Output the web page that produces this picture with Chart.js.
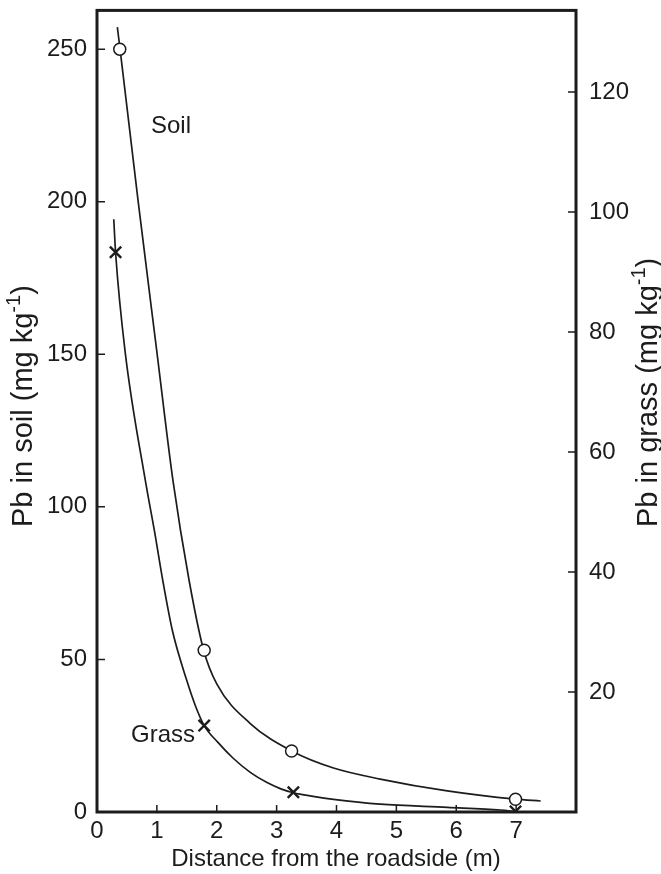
<!DOCTYPE html>
<html><head><meta charset="utf-8">
<script src="https://cdn.jsdelivr.net/npm/chart.js@4.4.1/dist/chart.umd.min.js"></script>
<style>html,body{margin:0;padding:0;background:#fff}#wrap{width:661px;height:874px}</style>
</head><body><div id="wrap"><canvas id="c" width="661" height="874"></canvas></div>
<script>
const xTickValues = [0, 1, 2, 3, 4, 5, 6, 7];
const soilTickValues = [0, 50, 100, 150, 200, 250];
const grassTickValues = [20, 40, 60, 80, 100, 120];

const soilPointX = [0.38, 1.79, 3.25, 6.99];
const soilPointY = [250, 53, 20, 4.2];
const grassPointX = [0.31, 1.79, 3.28, 6.99];
const grassPointY = [93.3, 14.4, 3.3, 0.1];

const soilCurveX = [0.34, 0.385, 0.69, 1.00, 1.27, 1.54, 1.78, 2.00, 2.56, 3.26, 3.95, 4.73, 5.85, 6.99, 7.41];
const soilCurveY = [257.2, 250, 199.7, 150.8, 108.4, 75.7, 53.1, 42.0, 29.0, 19.9, 14.4, 10.8, 6.9, 4.2, 3.6];
const grassCurveX = [0.28, 0.31, 0.47, 0.81, 0.96, 1.10, 1.26, 1.50, 1.64, 1.79, 2.02, 2.27, 2.56, 2.84, 3.06, 3.28, 3.61, 3.95, 4.73, 5.85, 6.74, 6.99];
const grassCurveY = [98.8, 93.3, 76.7, 55.1, 46.8, 38.5, 30.2, 21.9, 17.8, 14.4, 11.6, 9.0, 6.6, 4.9, 3.9, 3.2, 2.6, 2.1, 1.3, 0.78, 0.33, 0.08];

const soilLabel = 'Soil';
const grassLabel = 'Grass';
const xTitle = 'Distance from the roadside (m)';
const leftTitle = ['Pb in soil (mg kg', '-1', ')'];
const rightTitle = ['Pb in grass (mg kg', '-1', ')'];

const FONT = '"Liberation Sans", Arial, Helvetica, sans-serif';
const INK = '#1c1c1c';
const pts = (xs, ys) => xs.map((x, i) => ({x: x, y: ys[i]}));

function drawSupTitle(ctx, parts, baseX, startY, size) {
  ctx.save();
  ctx.translate(baseX, startY);
  ctx.rotate(-Math.PI / 2);
  const big = size + 'px ' + FONT, small = Math.round(size * 0.7) + 'px ' + FONT;
  ctx.fillStyle = INK; ctx.textBaseline = 'alphabetic'; ctx.textAlign = 'left';
  let x = 0;
  ctx.font = big; ctx.fillText(parts[0], x, 0); x += ctx.measureText(parts[0]).width;
  ctx.font = small; ctx.fillText(parts[1], x, -size * 0.42); x += ctx.measureText(parts[1]).width;
  ctx.font = big; ctx.fillText(parts[2], x, 0);
  ctx.restore();
}

const decor = {
  id: 'decor',
  afterDraw(chart) {
    const ctx = chart.ctx, a = chart.chartArea, s = chart.scales;
    ctx.save();
    ctx.strokeStyle = INK;
    ctx.lineWidth = 3;
    ctx.strokeRect(a.left, a.top, a.right - a.left, a.bottom - a.top);
    ctx.lineWidth = 1.5;
    ctx.beginPath();
    xTickValues.forEach(v => { const p = s.x.getPixelForValue(v); ctx.moveTo(p, a.bottom); ctx.lineTo(p, a.bottom - 7); });
    soilTickValues.forEach(v => { const p = s.y.getPixelForValue(v); ctx.moveTo(a.left, p); ctx.lineTo(a.left + 8, p); });
    grassTickValues.forEach(v => { const p = s.y2.getPixelForValue(v); ctx.moveTo(a.right, p); ctx.lineTo(a.right - 8, p); });
    ctx.stroke();
    ctx.fillStyle = INK;
    ctx.font = '24px ' + FONT;
    ctx.textAlign = 'left'; ctx.textBaseline = 'middle';
    ctx.fillText(soilLabel, 151, 126);
    ctx.fillText(grassLabel, 131, 735);
    ctx.textAlign = 'center';
    ctx.fillText(xTitle, 336, 859);
    ctx.restore();
    drawSupTitle(ctx, leftTitle, 32, 527, 29);
    drawSupTitle(ctx, rightTitle, 657, 527, 29);
  }
};

const tickFont = {family: FONT, size: 24};

new Chart(document.getElementById('c'), {
  type: 'scatter',
  data: {
    datasets: [
      {data: pts(soilCurveX, soilCurveY), yAxisID: 'y', showLine: true, borderColor: INK, borderWidth: 1.7, pointRadius: 0, cubicInterpolationMode: 'monotone', order: 3},
      {data: pts(grassCurveX, grassCurveY), yAxisID: 'y2', showLine: true, borderColor: INK, borderWidth: 1.7, pointRadius: 0, cubicInterpolationMode: 'monotone', order: 3},
      {data: pts(soilPointX, soilPointY), yAxisID: 'y', showLine: false, pointStyle: 'circle', pointRadius: 6, pointBackgroundColor: '#fff', pointBorderColor: INK, pointBorderWidth: 1.5, order: 1},
      {data: pts(grassPointX, grassPointY), yAxisID: 'y2', showLine: false, pointStyle: 'crossRot', pointRadius: 8, pointBorderColor: INK, pointBorderWidth: 2.4, order: 1}
    ]
  },
  options: {
    responsive: false, animation: false, devicePixelRatio: 1,
    layout: {padding: {top: 7, left: 0, right: 0, bottom: 0}},
    plugins: {legend: {display: false}, tooltip: {enabled: false}},
    scales: {
      x: {
        type: 'linear', min: 0, max: 8,
        grid: {display: false, drawTicks: false}, border: {display: false},
        ticks: {font: tickFont, color: INK, padding: 5, maxRotation: 0, autoSkip: false},
        afterBuildTicks: s => { s.ticks = xTickValues.map(v => ({value: v})); },
        afterFit: s => { s.height = 62; s.paddingLeft = 0; s.paddingRight = 0; }
      },
      y: {
        position: 'left', min: 0, max: 262.7,
        grid: {display: false, drawTicks: false}, border: {display: false},
        ticks: {font: tickFont, color: INK, padding: 10, autoSkip: false},
        afterBuildTicks: s => { s.ticks = soilTickValues.map(v => ({value: v})); },
        afterFit: s => { s.width = 97; s.paddingTop = 0; s.paddingBottom = 0; }
      },
      y2: {
        position: 'right', min: 0, max: 133.6,
        grid: {display: false, drawTicks: false}, border: {display: false},
        ticks: {font: tickFont, color: INK, padding: 13, autoSkip: false},
        afterBuildTicks: s => { s.ticks = grassTickValues.map(v => ({value: v})); },
        afterFit: s => { s.width = 85; s.paddingTop = 0; s.paddingBottom = 0; }
      }
    }
  },
  plugins: [decor]
});
</script>
</body></html>
